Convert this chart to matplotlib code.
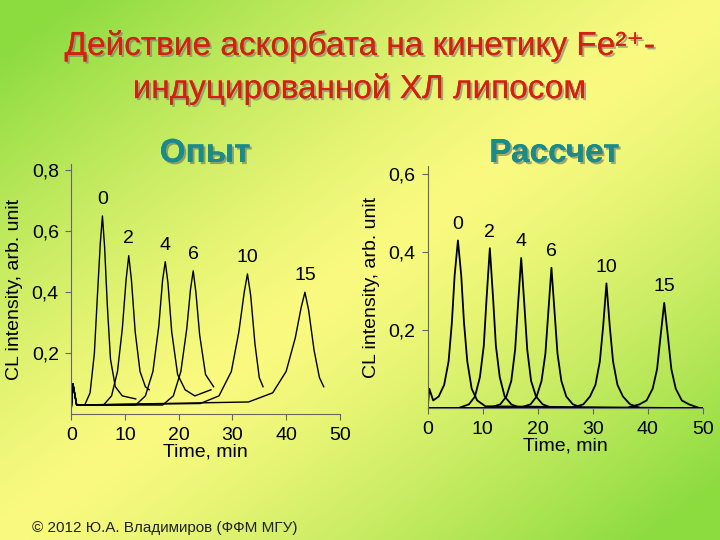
import numpy as np
import matplotlib
matplotlib.use("Agg")
import matplotlib.pyplot as plt
import matplotlib.patheffects as pe

plt.rcParams['font.family'] = ['Liberation Sans', 'DejaVu Sans']

# ---- data ----
exp_labels = ["0", "2", "4", "6", "10", "15"]
exp_t = [
    [0, 0.3, 1, 2.5, 3.5, 4.3, 4.9, 5.4, 5.8, 6.2, 6.7, 7.3, 8.2, 9.5, 12],
    [0, 0.3, 1, 6.0, 7.5, 8.6, 9.5, 10.2, 10.7, 11.2, 11.9, 12.8, 13.8, 14.5],
    [0, 0.3, 1, 12.0, 13.8, 15.2, 16.3, 17.0, 17.5, 18.0, 18.7, 19.8, 21.2, 23, 26],
    [0, 0.3, 1, 17.0, 19.0, 20.4, 21.5, 22.2, 22.7, 23.2, 23.9, 25.0, 26.5],
    [0, 0.3, 1, 24.0, 27.5, 29.8, 31.2, 32.2, 32.8, 33.4, 34.2, 35.0, 35.7],
    [0, 0.3, 1, 33.0, 37.5, 40.0, 41.7, 42.8, 43.5, 44.2, 45.2, 46.2, 47.0],
]
exp_y = [
    [0.02, 0.10, 0.03, 0.03, 0.07, 0.20, 0.40, 0.56, 0.65, 0.55, 0.36, 0.18, 0.09, 0.06, 0.05],
    [0.02, 0.10, 0.03, 0.03, 0.06, 0.14, 0.28, 0.44, 0.52, 0.44, 0.27, 0.14, 0.09, 0.08],
    [0.02, 0.10, 0.03, 0.03, 0.06, 0.14, 0.29, 0.44, 0.50, 0.43, 0.27, 0.13, 0.08, 0.06, 0.08],
    [0.02, 0.10, 0.03, 0.03, 0.06, 0.14, 0.28, 0.41, 0.47, 0.40, 0.26, 0.13, 0.09],
    [0.02, 0.10, 0.03, 0.035, 0.06, 0.14, 0.27, 0.40, 0.46, 0.39, 0.23, 0.12, 0.09],
    [0.02, 0.10, 0.03, 0.04, 0.07, 0.14, 0.25, 0.35, 0.40, 0.34, 0.21, 0.12, 0.09],
]
exp_lab_xy = [(5.8, 0.69), (10.7, 0.56), (17.5, 0.54), (22.7, 0.51), (32.8, 0.50), (43.5, 0.44)]

calc_labels = ["0", "2", "4", "6", "10", "15"]
calc_t = [
    [0, 0.3, 1.0, 2.0, 3.0, 3.8, 4.4, 4.9, 5.5, 6.1, 6.6, 7.2, 8.0, 9.0, 10.5, 50],
    [0, 5.5, 7.5, 8.6, 9.5, 10.2, 10.7, 11.3, 11.9, 12.4, 13.1, 14.0, 15.2, 17.0, 50],
    [0, 11.0, 13.2, 14.3, 15.2, 15.9, 16.4, 17.0, 17.6, 18.1, 18.8, 19.7, 20.9, 22.8, 50],
    [0, 16.5, 18.7, 19.8, 20.7, 21.4, 21.9, 22.5, 23.1, 23.6, 24.3, 25.2, 26.4, 28.3, 50],
    [0, 26.0, 28.3, 29.5, 30.5, 31.3, 31.9, 32.5, 33.1, 33.7, 34.5, 35.5, 36.8, 38.8, 50],
    [0, 36.0, 38.5, 39.8, 40.9, 41.7, 42.3, 43.0, 43.7, 44.3, 45.1, 46.2, 47.5, 49.5, 50],
]
calc_y = [
    [0, 0.05, 0.02, 0.03, 0.06, 0.12, 0.22, 0.34, 0.43, 0.34, 0.22, 0.12, 0.05, 0.02, 0.005, 0],
    [0, 0.0, 0.01, 0.03, 0.08, 0.16, 0.28, 0.41, 0.28, 0.16, 0.08, 0.03, 0.01, 0.0, 0],
    [0, 0.0, 0.01, 0.03, 0.07, 0.15, 0.26, 0.385, 0.26, 0.15, 0.07, 0.03, 0.01, 0.0, 0],
    [0, 0.0, 0.01, 0.03, 0.07, 0.14, 0.24, 0.36, 0.24, 0.14, 0.07, 0.03, 0.01, 0.0, 0],
    [0, 0.0, 0.01, 0.03, 0.06, 0.12, 0.21, 0.32, 0.21, 0.12, 0.06, 0.03, 0.01, 0.0, 0],
    [0, 0.0, 0.01, 0.02, 0.05, 0.10, 0.18, 0.27, 0.18, 0.10, 0.05, 0.02, 0.01, 0.0, 0],
]
calc_lab_xy = [(5.5, 0.46), (11.3, 0.44), (17.0, 0.415), (22.5, 0.39), (32.5, 0.35), (43.0, 0.30)]

yt_left = [0.2, 0.4, 0.6, 0.8]
yt_right = [0.2, 0.4, 0.6]
xt = [0, 10, 20, 30, 40, 50]

fig = plt.figure(figsize=(7.2, 5.4), dpi=100)
bg = fig.add_axes([0, 0, 1, 1])
gx = np.linspace(0, 1, 240)
gy = np.linspace(1, 0, 180)
X, Y = np.meshgrid(gx, gy)
d = np.clip(np.abs(X - Y) / 0.9, 0, 1) ** 1.3
c1 = np.array([0.98, 0.98, 0.50])
c2 = np.array([0.55, 0.86, 0.25])
img = c1[None, None, :] * (1 - d[..., None]) + c2[None, None, :] * d[..., None]
bg.imshow(img, extent=[0, 1, 0, 1], aspect="auto")
bg.axis("off")

tshadow = [pe.withSimplePatchShadow(offset=(1.5, -1.5), shadow_rgbFace="#777777", alpha=0.6), pe.Normal()]
fig.text(0.5, 0.915, "Действие аскорбата на кинетику Fe²⁺-",
         ha="center", va="center", fontsize=24, color="#d42010", path_effects=tshadow)
fig.text(0.5, 0.835, "индуцированной ХЛ липосом",
         ha="center", va="center", fontsize=24, color="#d42010", path_effects=tshadow)

def style(ax, yt):
    ax.patch.set_alpha(0)
    for s in ["top", "right"]:
        ax.spines[s].set_visible(False)
    ax.spines["left"].set_color("#666666")
    ax.spines["bottom"].set_color("#666666")
    ax.set_xlim(0, 50)
    ax.set_xticks(xt)
    ax.set_xticklabels([str(v) for v in xt], fontsize=14)
    ax.set_yticks(yt)
    ax.set_yticklabels([f"{v:.1f}".replace(".", ",") for v in yt], fontsize=14)
    ax.tick_params(direction="out", length=4, color="#666666", pad=5)
    ax.set_xlabel("Time, min", fontsize=14, labelpad=0)
    ax.set_ylabel("CL intensity, arb. unit", fontsize=14, labelpad=6)

ax1 = fig.add_axes([0.099, 0.233, 0.373, 0.463])
ax1.set_ylim(0, 0.82)
for tt, yy, lab, (lx, ly) in zip(exp_t, exp_y, exp_labels, exp_lab_xy):
    ax1.plot(tt, yy, color="black", lw=1.0)
    ax1.text(lx, ly, lab, fontsize=14, ha="center")
style(ax1, yt_left)

ax2 = fig.add_axes([0.594, 0.244, 0.382, 0.448])
ax2.set_ylim(0, 0.62)
for tt, yy, lab, (lx, ly) in zip(calc_t, calc_y, calc_labels, calc_lab_xy):
    ax2.plot(tt, yy, color="black", lw=1.3)
    ax2.text(lx, ly, lab, fontsize=14, ha="center")
style(ax2, yt_right)

shadow = [pe.withSimplePatchShadow(offset=(1.5, -1.5), shadow_rgbFace="#555555", alpha=0.5), pe.Normal()]
fig.text(0.285, 0.70, "Опыт", fontsize=24, fontweight="bold", color="#1a8a8a",
         ha="center", path_effects=shadow)
fig.text(0.77, 0.70, "Рассчет", fontsize=24, fontweight="bold", color="#1a8a8a",
         ha="center", path_effects=shadow)
fig.text(0.045, 0.015, "© 2012 Ю.А. Владимиров (ФФМ МГУ)", fontsize=11, color="#222222")

fig.savefig("out.png", dpi=100)
